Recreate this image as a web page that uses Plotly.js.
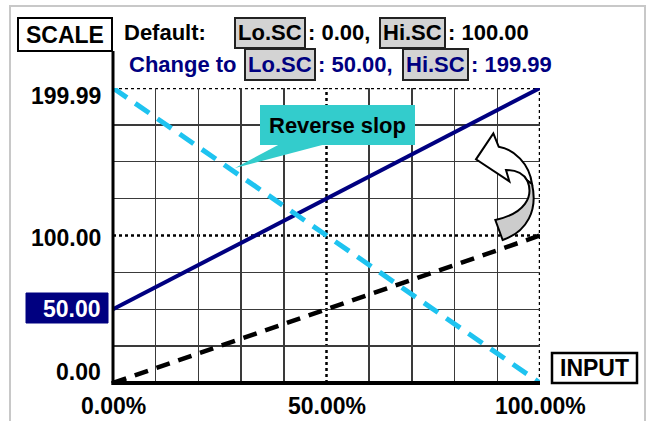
<!DOCTYPE html>
<html>
<head>
<meta charset="utf-8">
<script src="https://cdn.plot.ly/plotly-3.0.1.min.js"></script>
<style>
  html, body { margin: 0; padding: 0; background: #fff; }
  #chart { width: 647px; height: 421px; }
</style>
</head>
<body>
<div id="chart"></div>
<script>
// ---------- data ----------
const inputPct      = [0, 100];
const defaultScale  = [0, 100];
const changedScale  = [50, 199.99];
const reverseScale  = [199.99, 0];
const yTickVals = [199.99, 100, 50, 0];
const yTickText = ['199.99', '100.00', '50.00', '0.00'];
const xTickVals = [0, 50, 100];
const xTickText = ['0.00%', '50.00%', '100.00%'];
const xGridVals = [10, 20, 30, 40, 60, 70, 80, 90];
const yGridVals = [25, 50, 75, 125, 150, 175];

// ---------- layout helpers ----------
const L = 113, R = 540, T = 88, B = 383;
const fx = X => (X - L) / (R - L);
const fy = Y => (B - Y) / (B - T);
const FONT = 'Liberation Sans, Arial, Helvetica, sans-serif';
const NAVY = '#000080';

function rect(x0, y0, x1, y1, fill, lc, lw) {
  return {type: 'rect', xref: 'paper', yref: 'paper', layer: 'above',
    x0: fx(x0), x1: fx(x1), y0: fy(y1), y1: fy(y0),
    fillcolor: fill, line: {color: lc, width: lw}};
}
function txt(text, X, Y, anchor, color, size) {
  return {xref: 'paper', yref: 'paper', x: fx(X), y: fy(Y), xanchor: anchor, yanchor: 'middle',
    text: text, showarrow: false,
    font: {family: FONT, size: size, color: color, weight: 700}};
}
// arrow outline given in local units -> paper path
function ap(zx, zy) { return fx(440 + zx / 3) + ',' + fy(120 + zy / 3); }

const shapes = [
  // outer light frame
  rect(10, 6, 645, 440, 'rgba(0,0,0,0)', '#c8c8c8', 2),
  // dotted border and centre lines
  {type: 'line', xref: 'x', yref: 'y', layer: 'below', x0: 0, x1: 100, y0: 199.99, y1: 199.99, line: {color: '#000', width: 2.5, dash: 'dot'}},
  {type: 'line', xref: 'x', yref: 'y', layer: 'below', x0: 100, x1: 100, y0: 0, y1: 199.99, line: {color: '#000', width: 2.5, dash: 'dot'}},
  {type: 'line', xref: 'x', yref: 'y', layer: 'below', x0: 50, x1: 50, y0: 0, y1: 199.99, line: {color: '#000', width: 2.5, dash: 'dot'}},
  {type: 'line', xref: 'x', yref: 'y', layer: 'below', x0: 0, x1: 100, y0: 100, y1: 100, line: {color: '#000', width: 2.5, dash: 'dot'}},
  // axis lines
  {type: 'line', xref: 'paper', yref: 'paper', layer: 'above', x0: 0, x1: 0, y0: 0, y1: fy(51), line: {color: '#000', width: 3}},
  {type: 'line', xref: 'paper', yref: 'paper', layer: 'above', x0: -0.004, x1: 1, y0: 0, y1: 0, line: {color: '#000', width: 4}},
  // label boxes
  rect(18, 18, 112, 51, '#fff', '#000', 2),
  rect(235, 18, 305, 48, '#d3d3d3', '#222', 2),
  rect(380, 18, 445, 48, '#d3d3d3', '#222', 2),
  rect(245, 49, 315, 80, '#d3d3d3', '#222', 2),
  rect(403, 49, 468, 80, '#d3d3d3', '#222', 2),
  rect(26, 293, 108, 323, NAVY, NAVY, 1),
  rect(552, 353, 637, 383, '#fff', '#000', 2.5),
  // callout
  rect(260, 105, 415, 145, '#33CCCC', '#33CCCC', 0),
  {type: 'path', xref: 'paper', yref: 'paper', layer: 'above',
   path: 'M' + fx(280) + ',' + fy(144) + ' L' + fx(326) + ',' + fy(144) + ' L' + fx(235) + ',' + fy(168) + ' Z',
   fillcolor: '#33CCCC', line: {width: 0}},
  // curved arrow: head + upper arc (white)
  {type: 'path', xref: 'paper', yref: 'paper', layer: 'above',
   path: 'M' + ap(160, 40) + ' L' + ap(176, 80) + ' C' + ap(222, 88) + ' ' + ap(268, 130) + ' ' + ap(276, 192) +
         ' L' + ap(262, 182) + ' C' + ap(250, 160) + ' ' + ap(225, 150) + ' ' + ap(198, 150) +
         ' L' + ap(208, 184) + ' L' + ap(108, 118) + ' Z',
   fillcolor: '#fff', line: {color: '#000', width: 2}},
  // curved arrow: lower shaft (grey)
  {type: 'path', xref: 'paper', yref: 'paper', layer: 'above',
   path: 'M' + ap(262, 182) + ' C' + ap(282, 230) + ' ' + ap(255, 280) + ' ' + ap(166, 300) +
         ' L' + ap(188, 360) + ' C' + ap(262, 335) + ' ' + ap(294, 270) + ' ' + ap(276, 192) + ' Z',
   fillcolor: '#cccccc', line: {color: '#000', width: 2}}
];

const yLabelShift = [-8, -3, 0, 11];
const annotations = [
  txt('SCALE', 65, 35, 'center', '#000', 23),
  txt('Default:', 122, 32.5, 'left', '#000', 22),
  txt('Lo.SC', 270, 32.5, 'center', '#000', 22),
  txt(': 0.00,', 306, 32.5, 'left', '#000', 22),
  txt('Hi.SC', 412.5, 32.5, 'center', '#000', 22),
  txt(': 100.00', 446, 32.5, 'left', '#000', 22),
  txt('Change to', 127, 64.5, 'left', NAVY, 22),
  txt('Lo.SC', 280, 64.5, 'center', NAVY, 22),
  txt(': 50.00,', 316, 64.5, 'left', NAVY, 22),
  txt('Hi.SC', 435.5, 64.5, 'center', NAVY, 22),
  txt(': 199.99', 469, 64.5, 'left', NAVY, 22),
  txt('INPUT', 594.5, 368, 'center', '#000', 23),
  txt('Reverse slop', 337.5, 125, 'center', '#000', 22)
];
yTickVals.forEach((v, i) => {
  annotations.push({xref: 'paper', yref: 'y', x: fx(103), y: v, yshift: yLabelShift[i],
    xanchor: 'right', yanchor: 'middle', text: yTickText[i], showarrow: false,
    font: {family: FONT, size: 23, weight: 700, color: v === 50 ? '#fff' : '#000'}});
});
xTickVals.forEach((v, i) => {
  annotations.push({xref: 'x', yref: 'paper', x: v, y: fy(406),
    xanchor: 'center', yanchor: 'middle', text: xTickText[i], showarrow: false,
    font: {family: FONT, size: 23, weight: 700, color: '#000'}});
});

const traces = [
  {x: inputPct, y: defaultScale, mode: 'lines', line: {color: '#000', width: 4.5, dash: '14px,9px'}},
  {x: inputPct, y: changedScale, mode: 'lines', line: {color: NAVY, width: 4}},
  {x: inputPct, y: reverseScale, mode: 'lines', line: {color: '#1EC3F0', width: 5, dash: '17px,10px'}}
];

const layout = {
  width: 647, height: 421,
  margin: {l: L, r: 647 - R, t: T, b: 421 - B, pad: 0},
  paper_bgcolor: '#fff', plot_bgcolor: 'rgba(0,0,0,0)',
  showlegend: false, hovermode: false,
  xaxis: {range: [0, 100], tickvals: xGridVals, showticklabels: false, ticks: '',
          showgrid: true, gridcolor: '#3a3a3a', gridwidth: 1.5, zeroline: false, showline: false, fixedrange: true},
  yaxis: {range: [0, 199.99], tickvals: yGridVals, showticklabels: false, ticks: '',
          showgrid: true, gridcolor: '#3a3a3a', gridwidth: 1.5, zeroline: false, showline: false, fixedrange: true},
  shapes: shapes,
  annotations: annotations
};

Plotly.newPlot('chart', traces, layout, {staticPlot: true, displayModeBar: false});
</script>
</body>
</html>
